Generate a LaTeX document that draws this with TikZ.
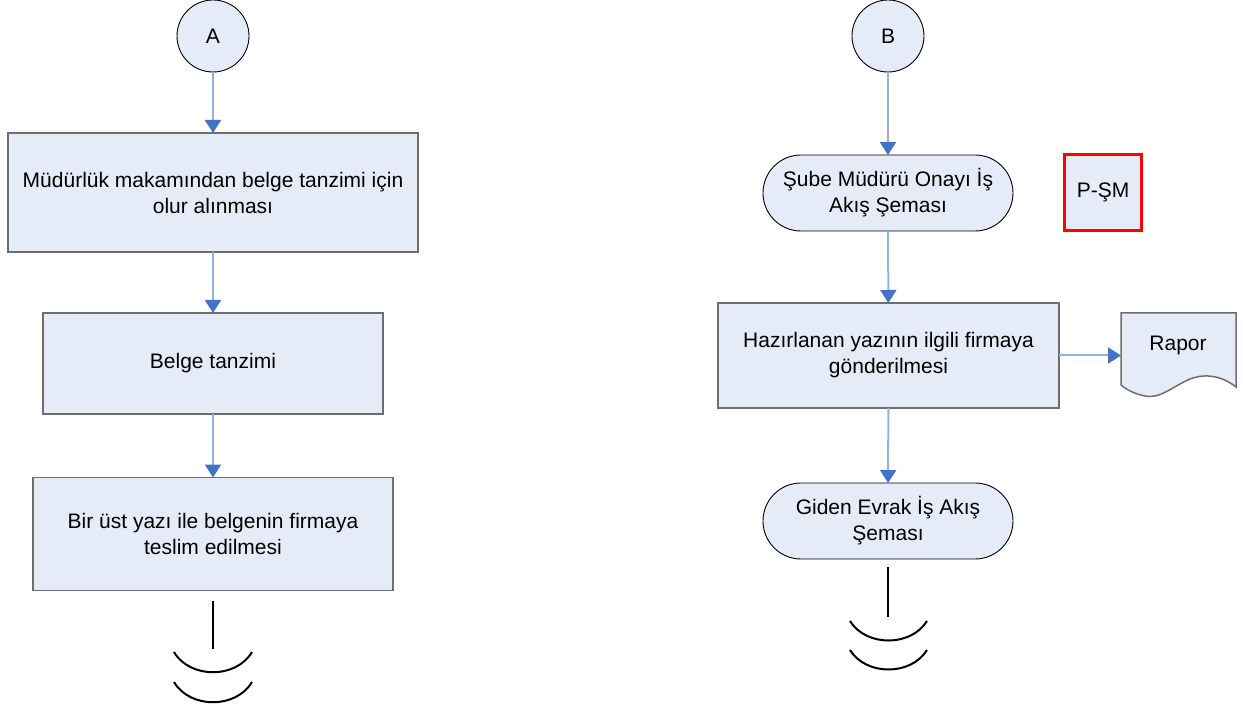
\documentclass[tikz,border=0pt]{standalone}
\usepackage{fontspec}
\setmainfont{Liberation Sans}
\usetikzlibrary{arrows.meta}
\definecolor{boxfill}{HTML}{E6ECF7}
\definecolor{boxline}{HTML}{6E6E6E}
\definecolor{arrline}{HTML}{95B3D7}
\definecolor{arrhead}{HTML}{4472C4}
\definecolor{redline}{HTML}{FF0000}
\tikzset{
  txt/.style={font=\fontsize{21}{26}\selectfont, align=center, text=black},
  procbox/.style={txt, draw=boxline, line width=1.8pt, fill=boxfill, rectangle, inner sep=0pt, outer sep=0pt},
  conn/.style={txt, circle, draw=black, line width=0.9pt, fill=boxfill, minimum size=72pt, inner sep=0pt, outer sep=0pt},
  termbox/.style={txt, rectangle, rounded corners=38pt, draw=black, line width=0.9pt, fill=boxfill, minimum width=250pt, minimum height=76pt, inner sep=0pt, outer sep=0pt},
  flow/.style={draw=arrline, line width=2pt, -{Triangle[width=16pt,length=13pt,fill=arrhead,color=arrhead]}},
  breakln/.style={draw=black, line width=2pt},
}
\begin{document}
\begin{tikzpicture}[x=1pt,y=-1pt]
\useasboundingbox (0,0) rectangle (1243,711);
% left column
\node[conn] (A) at (213,36) {A};
\node[procbox, minimum width=410pt, minimum height=119pt] (b1) at (213,192.5) {Müdürlük makamından belge tanzimi için\\olur alınması};
\node[procbox, minimum width=340pt, minimum height=101pt] (b2) at (213,363.5) {Belge tanzimi};
\node[procbox, minimum width=360pt, minimum height=113pt] (b3) at (213,534) {Bir üst yazı ile belgenin firmaya\\teslim edilmesi};
\draw[flow] (A) -- (b1);
\draw[flow] (b1) -- (b2);
\draw[flow] (b2) -- (b3);
\draw[breakln] (213,601) -- (213,649);
\draw[breakln] (174,652) .. controls (190,679) and (236,679) .. (252,652);
\draw[breakln] (174,682) .. controls (190,709) and (236,709) .. (252,682);
% right column
\node[conn] (B) at (888,36) {B};
\node[termbox] (t1) at (888,193) {Şube Müdürü Onayı İş\\Akış Şeması};
\node[procbox, draw=redline, line width=3pt, minimum width=77pt, minimum height=76pt] (psm) at (1103,192.5) {P-ŞM};
\node[procbox, minimum width=341pt, minimum height=105pt] (haz) at (888.5,355.5) {Hazırlanan yazının ilgili firmaya\\gönderilmesi};
\node[termbox] (t2) at (888,521) {Giden Evrak İş Akış\\Şeması};
% Rapor document
\draw[draw=boxline, line width=1.5pt, fill=boxfill]
  (1121,313) -- (1236,313) -- (1236,387)
  .. controls (1222,376) and (1206,373) .. (1190,379)
  .. controls (1170,388) and (1160,399) .. (1145,396)
  .. controls (1135,394) and (1127,390) .. (1121,385) -- cycle;
\node[txt, inner sep=0pt] (rapor) at (1178,345) {Rapor};
\coordinate (rapL) at (1121,355.5);
\draw[flow] (B) -- (t1);
\draw[flow] (t1) -- (haz);
\draw[flow] (haz) -- (t2);
\draw[flow] (haz.east) -- (rapL);
\draw[breakln] (888,567) -- (888,617);
\draw[breakln] (850,621) .. controls (866,647) and (911,647) .. (927,621);
\draw[breakln] (850,650) .. controls (866,676) and (911,676) .. (927,650);
\end{tikzpicture}
\end{document}
